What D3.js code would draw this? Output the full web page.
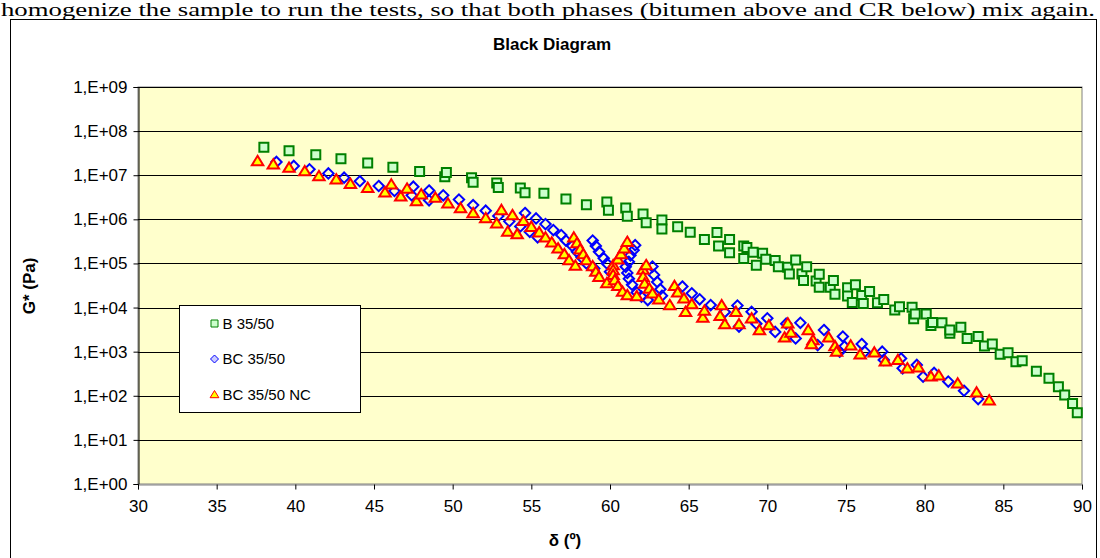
<!DOCTYPE html>
<html lang="en">
<head>
<meta charset="UTF-8">
<title>Black Diagram</title>
<script src="https://d3js.org/d3.v7.min.js"></script>
<style>
  body { margin: 0; background: #fff; }
  svg { display: block; font-family: "Liberation Sans", Arial, sans-serif; }
  .tick text { font-size: 17px; fill: #000; }
</style>
</head>
<body>
<svg width="1100" height="558"></svg>
<script>
// B 35/50  [delta (deg), G* (Pa)]
const bSeries = [
  [38.0,4.3e7],[39.6,3.6e7],[41.3,2.9e7],[42.9,2.37e7],[44.6,1.89e7],[46.2,1.51e7],[47.9,1.22e7],
  [49.5,9.2e6],[49.6,1.16e7],[51.2,8.8e6],[51.3,6.9e6],[52.8,6.7e6],[52.9,5.3e6],[54.3,5.1e6],
  [54.6,4.0e6],[55.8,3.9e6],[57.2,2.9e6],[58.5,2.14e6],[59.8,2.47e6],[59.9,1.6e6],[61.0,1.8e6],
  [61.1,1.17e6],[62.1,1.32e6],[62.3,8.4e5],[63.3,9.6e5],[63.3,6.0e5],[64.3,6.8e5],[65.1,5.1e5],
  [66.0,3.5e5],[66.8,5.0e5],[66.9,2.5e5],[67.6,3.5e5],[67.6,1.75e5],[68.5,2.5e5],[68.7,2.3e5],
  [68.5,1.3e5],[69.1,1.79e5],[69.3,9.1e4],[69.7,1.7e5],[69.9,1.24e5],[70.5,1.17e5],[70.7,8.4e4],
  [71.3,8.2e4],[71.4,5.75e4],[71.8,1.19e5],[72.2,5.75e4],[72.3,4.1e4],[72.5,8.4e4],[73.1,4.0e4],
  [73.3,2.9e4],[73.3,5.7e4],[74.0,2.9e4],[74.2,4.1e4],[74.3,2.0e4],[75.1,2.8e4],[75.1,1.82e4],
  [75.6,3.3e4],[75.4,1.3e4],[76.0,1.87e4],[76.1,1.24e4],[76.5,2.3e4],[77.0,1.29e4],[77.4,1.53e4],
  [78.1,8.8e3],[78.4,1.04e4],[79.2,1.01e4],[79.3,5.6e3],[79.4,7.1e3],[80.1,7.1e3],[80.4,3.9e3],
  [80.5,4.6e3],[81.1,4.5e3],[81.6,2.6e3],[81.6,3.1e3],[82.3,3.6e3],[82.7,2.0e3],[83.4,2.2e3],
  [83.8,1.34e3],[84.3,1.49e3],[84.8,870],[85.3,940],[85.8,590],[86.2,620],[87.1,360],[87.9,250],
  [88.5,160],[88.9,104],[89.4,67],[89.7,41]
];

// BC 35/50
const bcSeries = [
  [38.8,2.0e7],[39.9,1.62e7],[40.9,1.36e7],[42.1,1.1e7],[43.1,8.8e6],[44.1,7.3e6],[45.3,5.7e6],
  [46.3,4.4e6],[47.4,3.5e6],[47.5,5.5e6],[48.5,4.5e6],[48.5,2.7e6],[49.4,3.5e6],[50.4,2.8e6],
  [51.3,2.1e6],[52.1,1.57e6],[52.9,1.19e6],[53.6,9.0e5],[54.3,6.9e5],[54.6,1.39e6],[54.9,5.2e5],
  [55.3,1.05e6],[55.4,3.9e5],[55.9,7.8e5],[56.4,5.7e5],[56.9,4.4e5],[57.2,3.3e5],[57.6,2.5e5],
  [57.9,1.84e5],[58.2,1.37e5],[58.5,1.0e5],[59.0,7.7e4],[58.9,3.3e5],[59.1,2.5e5],[59.3,1.84e5],
  [59.6,1.31e5],[59.8,1.0e5],[60.0,6.5e4],[61.0,8.4e4],[61.1,6.1e4],[61.2,4.5e4],[61.4,3.3e4],
  [61.7,2.2e4],[62.0,1.76e4],[62.4,1.48e4],[61.2,1.09e5],[61.3,1.53e5],[61.5,2.0e5],[61.6,2.6e5],
  [62.7,8.5e4],[62.8,5.5e4],[63.0,3.8e4],[63.2,2.6e4],[63.3,1.85e4],[64.6,3.0e4],[65.2,2.1e4],
  [65.7,1.54e4],[66.4,1.14e4],[67.3,7.9e3],[68.1,1.11e4],[68.2,3.7e3],[69.0,8.0e3],[69.3,4.3e3],
  [70.0,5.7e3],[70.5,2.8e3],[71.2,4.3e3],[71.8,2.0e3],[72.1,4.5e3],[73.2,1.41e3],[73.6,3.1e3],
  [74.8,2.2e3],[74.9,1.31e3],[74.6,1.0e3],[76.0,1.49e3],[76.2,1.0e3],[77.3,1.0e3],[77.4,650],
  [78.5,700],[78.6,420],[79.5,500],[79.9,270],[80.6,330],[81.5,210],[82.5,130],[83.4,84]
];

// BC 35/50 NC
const bcNcSeries = [
  [37.6,2.1e7],[38.6,1.77e7],[39.6,1.48e7],[40.6,1.24e7],[41.5,9.6e6],[42.6,8.1e6],[43.5,6.4e6],
  [44.6,5.2e6],[45.7,4.1e6],[46.1,6.2e6],[46.7,3.3e6],[47.1,5.0e6],[47.7,2.6e6],[48.0,3.7e6],
  [48.9,3.1e6],[49.7,2.3e6],[50.5,1.8e6],[51.3,1.39e6],[52.1,1.07e6],[52.8,8.1e5],[53.1,1.63e6],
  [53.5,5.3e5],[53.8,1.25e6],[54.1,4.6e5],[54.5,9.2e5],[55.0,6.8e5],[55.5,5.1e5],[55.9,3.9e5],
  [56.3,3.0e5],[56.7,2.2e5],[57.1,1.63e5],[57.4,1.19e5],[57.8,8.9e4],[57.7,3.9e5],[57.9,2.9e5],
  [58.1,2.1e5],[58.3,1.63e5],[58.5,1.19e5],[58.9,8.7e4],[59.1,6.5e4],[59.3,5.0e4],[59.8,3.6e4],
  [60.2,9.2e4],[60.2,7.1e4],[60.2,5.5e4],[60.3,4.2e4],[60.5,3.1e4],[60.8,2.3e4],[60.5,1.24e5],
  [60.7,1.63e5],[60.9,2.2e5],[61.1,3.1e5],[61.1,1.92e4],[61.7,1.82e4],[62.1,7.3e4],[62.3,9.2e4],
  [62.1,5.0e4],[62.2,3.5e4],[62.5,2.7e4],[62.7,2.1e4],[63.1,1.53e4],[63.8,1.14e4],[64.1,3.1e4],
  [64.3,2.2e4],[64.7,1.62e4],[64.8,8.0e3],[65.2,1.2e4],[65.9,5.9e3],[66.0,8.5e3],[67.1,1.13e4],
  [67.0,6.5e3],[67.3,4.2e3],[68.0,8.0e3],[68.2,4.2e3],[69.0,5.7e3],[69.5,3.1e3],[70.1,4.0e3],
  [71.1,2.1e3],[71.3,4.4e3],[71.5,2.7e3],[72.6,3.1e3],[72.9,1.83e3],[72.8,1.49e3],[73.9,2.1e3],
  [74.3,1.34e3],[74.4,1.0e3],[75.3,1.39e3],[75.9,870],[76.8,960],[77.5,600],[78.3,650],[78.9,420],
  [79.6,440],[80.4,275],[80.9,290],[82.1,191],[83.3,119],[84.1,79]
];

const seriesNames = ["B 35/50", "BC 35/50", "BC 35/50 NC"];
const xTicks = [30, 35, 40, 45, 50, 55, 60, 65, 70, 75, 80, 85, 90];
const yTicks = [1e0, 1e1, 1e2, 1e3, 1e4, 1e5, 1e6, 1e7, 1e8, 1e9];

const svg = d3.select("svg");
const plot = { left: 138, right: 1082, top: 87, bottom: 484 };

const x = d3.scaleLinear().domain([30, 90]).range([plot.left, plot.right]);
const y = d3.scaleLog().domain([1, 1e9]).range([plot.bottom, plot.top]);

// last line of the page text above the chart
svg.append("text")
    .attr("x", 1).attr("y", 16)
    .attr("textLength", 1094)
    .attr("lengthAdjust", "spacingAndGlyphs")
    .style("font-family", "'Liberation Serif', 'Times New Roman', serif")
    .style("font-size", "19px")
    .text("homogenize the sample to run the tests, so that both phases (bitumen above and CR below) mix again.");

// chart frame
svg.append("rect")
    .attr("x", 10.5).attr("y", 19.5)
    .attr("width", 1086).attr("height", 600)
    .attr("fill", "none").attr("stroke", "#000");

svg.append("text")
    .attr("x", 552).attr("y", 50)
    .attr("text-anchor", "middle")
    .style("font-weight", "bold").style("font-size", "17px")
    .text("Black Diagram");

// plot area
svg.append("rect")
    .attr("x", plot.left).attr("y", plot.top)
    .attr("width", plot.right - plot.left).attr("height", plot.bottom - plot.top)
    .attr("fill", "#FFFFCC").attr("stroke", "#808080");

svg.append("g")
    .selectAll("line")
    .data(yTicks.slice(1))
    .enter().append("line")
    .attr("x1", plot.left).attr("x2", plot.right)
    .attr("y1", d => Math.round(y(d)) + 0.5)
    .attr("y2", d => Math.round(y(d)) + 0.5)
    .attr("stroke", "#000").attr("stroke-width", 1);

const yAxis = svg.append("g")
    .attr("transform", `translate(${plot.left + 0.5},0)`)
    .call(d3.axisLeft(y).tickValues(yTicks).tickSize(5).tickPadding(6)
        .tickFormat(d => "1,E+" + String(Math.round(Math.log10(d))).padStart(2, "0")));
yAxis.select(".domain").attr("stroke", "#000");

const xAxis = svg.append("g")
    .attr("transform", `translate(0,${plot.bottom + 0.5})`)
    .call(d3.axisBottom(x).tickValues(xTicks).tickSize(5).tickPadding(10).tickFormat(d3.format("d")));
xAxis.select(".domain").attr("stroke", "#808080");

svg.append("text")
    .attr("transform", "translate(35,286) rotate(-90)")
    .attr("text-anchor", "middle")
    .style("font-weight", "bold").style("font-size", "17px")
    .text("G* (Pa)");

svg.append("text")
    .attr("x", 565).attr("y", 546)
    .attr("text-anchor", "middle")
    .style("font-weight", "bold").style("font-size", "17px")
    .text("δ (º)");

// marker shapes
const squarePath = s => `M${-s},${-s}h${2 * s}v${2 * s}h${-2 * s}Z`;
const diamondPath = s => `M0,${-s}L${s},0L0,${s}L${-s},0Z`;
const trianglePath = s => `M0,${-s}L${s * 1.1},${s * 0.8}L${-s * 1.1},${s * 0.8}Z`;

const styles = [
    { path: squarePath(4.5), fill: "#CCFFCC", stroke: "#008000", legend: squarePath(3.5) },
    { path: diamondPath(5.2), fill: "none", stroke: "#0000FF", legend: diamondPath(4), legendFill: "#CCCCFF" },
    { path: trianglePath(5.2), fill: "#FFFF00", stroke: "#FF0000", legend: trianglePath(4) }
];

[bSeries, bcSeries, bcNcSeries].forEach((data, i) => {
    svg.append("g")
        .selectAll("path")
        .data(data)
        .enter().append("path")
        .attr("transform", d => `translate(${x(d[0])},${y(d[1])})`)
        .attr("d", styles[i].path)
        .attr("fill", styles[i].fill)
        .attr("stroke", styles[i].stroke)
        .attr("stroke-width", 2);
});

// legend
const legend = svg.append("g").attr("transform", "translate(179.5,305.5)");
legend.append("rect")
    .attr("width", 181).attr("height", 107)
    .attr("fill", "#fff").attr("stroke", "#000");

const rows = legend.selectAll("g.row")
    .data(seriesNames)
    .enter().append("g")
    .attr("class", "row")
    .attr("transform", (d, i) => `translate(35,${18 + i * 35.5})`);

rows.append("path")
    .attr("d", (d, i) => styles[i].legend)
    .attr("fill", (d, i) => styles[i].legendFill || styles[i].fill)
    .attr("stroke", (d, i) => styles[i].stroke)
    .attr("stroke-width", 1);

rows.append("text")
    .attr("x", 8).attr("dy", "0.36em")
    .style("font-size", "15px")
    .text(d => d);
</script>
</body>
</html>
